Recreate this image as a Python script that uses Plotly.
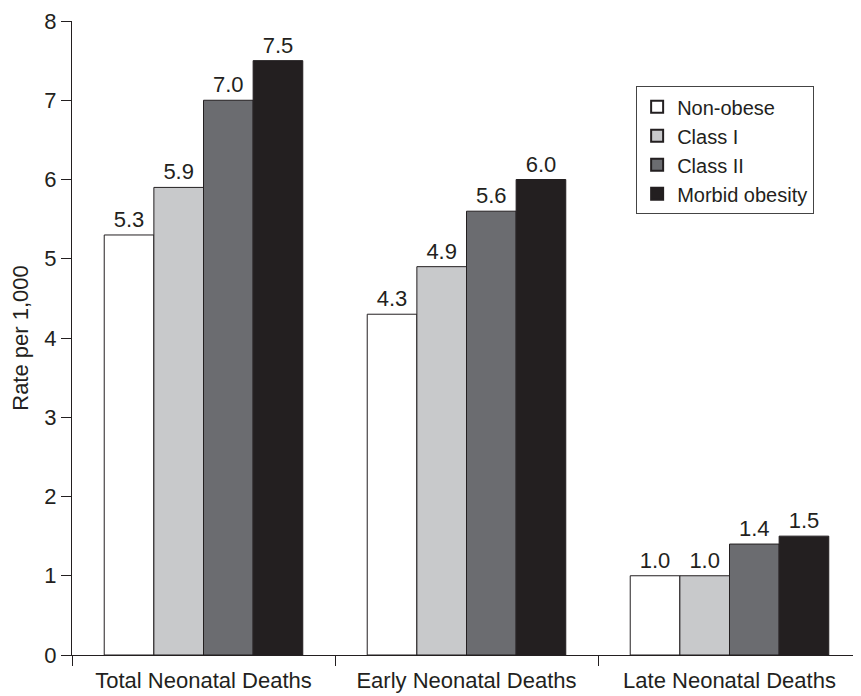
import plotly.graph_objects as go

# dados
categorias = ["Total Neonatal Deaths", "Early Neonatal Deaths", "Late Neonatal Deaths"]
series = ["Non-obese", "Class I", "Class II", "Morbid obesity"]
nao_obeso = [5.3, 4.3, 1.0]
classe_1 = [5.9, 4.9, 1.0]
classe_2 = [7.0, 5.6, 1.4]
morbida = [7.5, 6.0, 1.5]
valores = [nao_obeso, classe_1, classe_2, morbida]

CORES = ["#ffffff", "#c8c9cb", "#6b6c70", "#231f20"]
COR_TEXTO = "#231f20"
FONTE = "Liberation Sans, Arial, sans-serif"

fig = go.Figure()
for nome, vals, cor in zip(series, valores, CORES):
    fig.add_trace(go.Bar(
        name=nome,
        x=categorias,
        y=vals,
        text=[f"{v:.1f}" for v in vals],
        textposition="outside",
        cliponaxis=False,
        textfont=dict(size=22, color=COR_TEXTO, family=FONTE),
        marker=dict(color=cor, line=dict(color=COR_TEXTO, width=1)),
    ))

# a pagina tem margem de 8px no body, por isso 853x688
fig.update_layout(
    width=853, height=688,
    barmode="group",
    bargap=0.245,
    bargroupgap=0,
    paper_bgcolor="white",
    plot_bgcolor="white",
    font=dict(family=FONTE, size=22, color=COR_TEXTO),
    margin=dict(l=64, r=0, t=13, b=41),
    showlegend=True,
    legend=dict(
        x=0.715, y=0.897, xanchor="left", yanchor="top",
        bordercolor="#444", borderwidth=1, bgcolor="white",
        font=dict(size=20, color=COR_TEXTO, family=FONTE),
        tracegroupgap=0, itemsizing="constant",
    ),
    xaxis=dict(
        range=[-0.5, 2.5], automargin=False,
        showline=True, linecolor=COR_TEXTO, linewidth=1,
        ticks="outside", tickson="boundaries", ticklen=10,
        tickcolor=COR_TEXTO, showgrid=False,
        tickfont=dict(size=22), ticklabelstandoff=6,
        ticklabeloverflow="allow",
    ),
    yaxis=dict(
        range=[0, 8], dtick=1, automargin=False,
        showline=True, linecolor=COR_TEXTO, linewidth=1,
        ticks="outside", ticklen=10, tickcolor=COR_TEXTO,
        showgrid=False, zeroline=False,
        tickfont=dict(size=22), ticklabeloverflow="allow",
        title=dict(text="Rate per 1,000", font=dict(size=22), standoff=12),
    ),
)

fig.write_html("out.html")
